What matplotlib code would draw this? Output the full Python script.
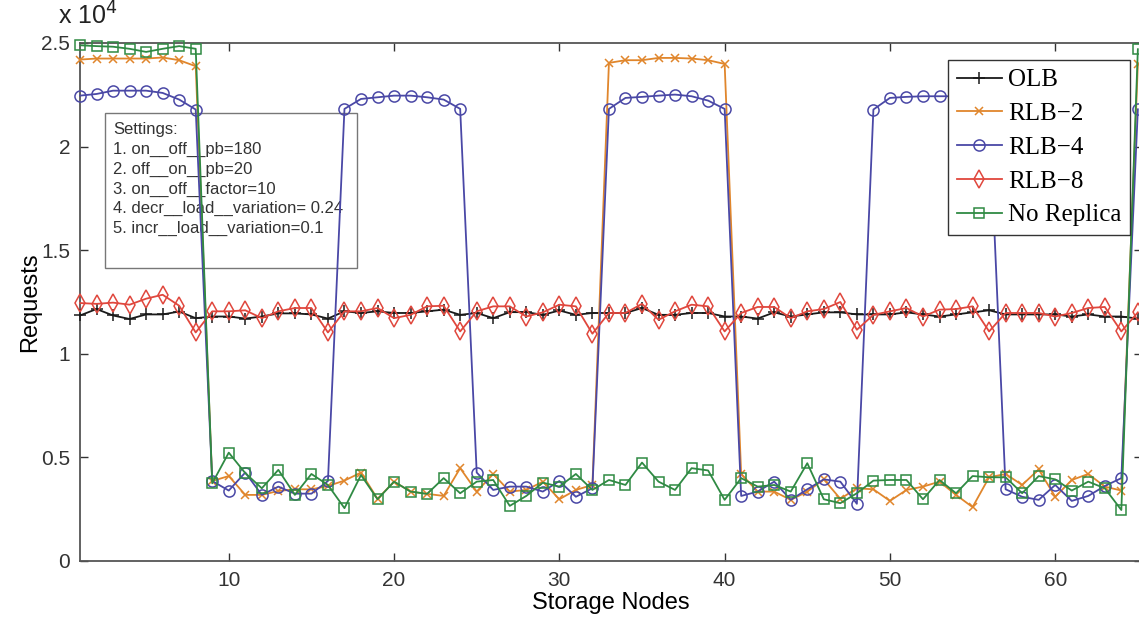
import matplotlib
matplotlib.use("Agg")
import matplotlib.pyplot as plt
from matplotlib.patches import Rectangle
from matplotlib.ticker import FuncFormatter

nodes = list(range(1, 66))

olb = [11850, 12160, 11850, 11680, 11900, 11900, 12040, 11720, 11800, 11800,
       11700, 11800, 11950, 11950, 11900, 11700, 12050, 11970, 12050, 11970,
       11970, 12050, 12130, 11880, 11970, 11720, 12010, 12010, 11880, 12090,
       11880, 11970, 11970, 11970, 12210, 11880, 11880, 11970, 11970, 11800,
       11800, 11700, 12000, 11800, 11900, 12000, 12000, 11900, 11900, 11900,
       12000, 11900, 11800, 11900, 12000, 12100, 11900, 11900, 11900, 11900,
       11800, 11900, 11800, 11800, 11700]

rlb2 = [24200, 24250, 24250, 24250, 24250, 24300, 24170, 23880,
        3860, 4100, 3190, 3190, 3380, 3460, 3460, 3620, 3880, 4270, 3000, 3830,
        3350, 3240, 3140, 4480, 3350, 4200, 3350, 3430, 3830, 2980, 3430, 3670,
        24040, 24170, 24170, 24280, 24280, 24250, 24170, 23990,
        4200, 3350, 3350, 2950, 3350, 3940, 3000, 3510, 3460, 2900, 3430, 3590,
        3830, 3190, 2600, 4040, 4200, 3670, 4420, 3100, 3910, 4200, 3590, 3400,
        24000]

rlb4 = [22460, 22540, 22700, 22700, 22700, 22590, 22270, 21790,
        3860, 3400, 4270, 3190, 3590, 3250, 3250, 3860,
        21820, 22300, 22380, 22460, 22460, 22380, 22270, 21820,
        4270, 3430, 3590, 3590, 3350, 3860, 3100, 3510,
        21820, 22350, 22400, 22460, 22510, 22430, 22220, 21820,
        3140, 3350, 3830, 2950, 3460, 3940, 3830, 2760,
        21790, 22350, 22400, 22430, 22430, 22430, 22380, 21820,
        3460, 3100, 2950, 3670, 2900, 3140, 3620, 4000,
        21800]

rlb8 = [12450, 12410, 12470, 12370, 12660, 12850, 12320, 11030, 12050, 12050,
        12100, 11720, 12050, 12210, 12210, 11030, 12050, 12050, 12210, 11720,
        11880, 12290, 12320, 11080, 12050, 12290, 12290, 11800, 12000, 12370,
        12290, 10970, 11970, 11970, 12410, 11640, 12050, 12370, 12290, 11080,
        11970, 12260, 12260, 11720, 12050, 12160, 12500, 11160, 11880, 12050,
        12210, 11800, 12130, 12160, 12290, 11080, 11970, 11970, 11970, 11800,
        11970, 12210, 12260, 11080, 12000]

no_replica = [24890, 24850, 24820, 24720, 24570, 24720, 24850, 24720,
              3750, 5230, 4240, 3510, 4400, 3190, 4200, 3670, 2550, 4150, 2980,
              3830, 3350, 3240, 4000, 3270, 3830, 3910, 2660, 3140, 3780, 3590,
              4200, 3430, 3910, 3670, 4750, 3830, 3430, 4480, 4370, 2950, 4000,
              3590, 3670, 3350, 4720, 2980, 2790, 3270, 3880, 3910, 3910, 2980,
              3910, 3270, 4100, 4040, 4040, 3270, 4100, 3940, 3400, 3830, 3510,
              2460, 24700]

settings_lines = ["Settings:",
                  "1. on__off__pb=180",
                  "2. off__on__pb=20",
                  "3. on__off__factor=10",
                  "4. decr__load__variation= 0.24",
                  "5. incr__load__variation=0.1"]

sans = ["Liberation Sans", "DejaVu Sans"]
serif = ["Liberation Serif", "DejaVu Serif"]

fig = plt.figure(figsize=(11.39, 6.25), dpi=100)
ax = fig.add_axes([80 / 1139, 64 / 625, 1062 / 1139, 518 / 625])

series = [
    ("OLB", olb, "#1a1a1a", "+", 8),
    ("RLB\u22122", rlb2, "#e0862c", "x", 6),
    ("RLB\u22124", rlb4, "#4a48a6", "o", 8),
    ("RLB\u22128", rlb8, "#e0473d", "d", 9),
    ("No Replica", no_replica, "#2f8a43", "s", 7),
]
for name, vals, col, mk, ms in series:
    ax.plot(nodes, vals, color=col, marker=mk, markersize=ms,
            markerfacecolor="none", markeredgecolor=col, markeredgewidth=1.1,
            linewidth=1.3, label=name, clip_on=False, zorder=3)

ax.set_xlim(1, 65.25)
ax.set_ylim(0, 25000)
ax.set_xticks([10, 20, 30, 40, 50, 60])
ax.set_yticks([0, 5000, 10000, 15000, 20000, 25000])
ax.yaxis.set_major_formatter(FuncFormatter(lambda v, p: f"{v / 1e4:g}"))
ax.tick_params(direction="in", length=6, width=1.0, top=True, right=True,
               labelsize=15, colors="#333333", pad=7)
for lbl in ax.get_xticklabels() + ax.get_yticklabels():
    lbl.set_family(sans)
for sp in ax.spines.values():
    sp.set_color("#555555")
    sp.set_linewidth(1.3)

ax.set_xlabel("Storage Nodes", fontsize=17, family=sans, labelpad=2)
ax.set_ylabel("Requests", fontsize=17, family=sans, labelpad=0)
ax.text(-0.021, 1.025, r"x 10$^4$", transform=ax.transAxes, fontsize=18,
        family=sans, ha="left", va="bottom", color="#222222")

# settings box
ax.add_patch(Rectangle((0.0235, 0.566), 0.2375, 0.299, transform=ax.transAxes,
                       facecolor="none", edgecolor="#777777", linewidth=1.0,
                       zorder=2))
ax.text(0.031, 0.848, "\n".join(settings_lines), transform=ax.transAxes,
        fontsize=12, family=sans, va="top", ha="left", linespacing=1.4,
        color="#333333", zorder=2)

leg = ax.legend(loc="upper right", bbox_to_anchor=(0.9887, 0.967),
                prop={"family": serif, "size": 18}, fancybox=False,
                edgecolor="#333333", framealpha=1, handlelength=1.8,
                handletextpad=0.25, labelspacing=0.45, borderpad=0.35,
                borderaxespad=0)
leg.get_frame().set_linewidth(1.0)
leg.set_zorder(5)

fig.savefig("out.png", dpi=100)
